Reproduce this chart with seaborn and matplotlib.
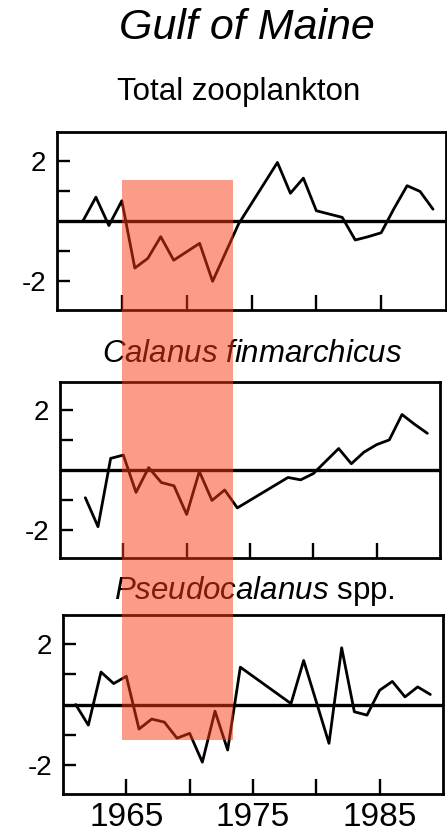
import matplotlib
matplotlib.use("Agg")
import matplotlib.pyplot as plt
import seaborn as sns
import pandas as pd
from matplotlib import transforms
from matplotlib.patches import Rectangle

# ---------------- data ----------------
total_years = [1962, 1963, 1964, 1965, 1966, 1967, 1968, 1969, 1970, 1971, 1972,
               1974, 1977, 1978, 1979, 1980, 1981, 1982, 1983, 1984, 1985,
               1986, 1987, 1988, 1989]
total_vals = [0.0, 0.79, -0.15, 0.67, -1.56, -1.24, -0.52, -1.30, -1.02, -0.74, -2.0,
              -0.1, 1.94, 0.92, 1.42, 0.34, 0.23, 0.12, -0.63, -0.52, -0.39,
              0.42, 1.17, 0.98, 0.39]

calanus_years = [1962, 1963, 1964, 1965, 1966, 1967, 1968, 1969, 1970, 1971, 1972,
                 1973, 1974, 1978, 1979, 1980, 1981, 1982, 1983, 1984, 1985,
                 1986, 1987, 1988, 1989]
calanus_vals = [-0.93, -1.90, 0.39, 0.50, -0.75, 0.08, -0.42, -0.53, -1.49, -0.05, -1.02,
                -0.67, -1.27, -0.25, -0.33, -0.12, 0.30, 0.72, 0.21, 0.60, 0.85,
                1.01, 1.86, 1.53, 1.23]

pseudo_years = [1961, 1962, 1963, 1964, 1965, 1966, 1967, 1968, 1969, 1970, 1971,
                1972, 1973, 1974, 1978, 1979, 1981, 1982, 1983, 1984, 1985,
                1986, 1987, 1988, 1989]
pseudo_vals = [0.0, -0.68, 1.07, 0.69, 0.93, -0.81, -0.48, -0.58, -1.11, -0.95, -1.90,
               -0.22, -1.50, 1.23, 0.03, 1.45, -1.28, 1.87, -0.24, -0.35, 0.47,
               0.76, 0.25, 0.58, 0.33]

xticks = [1965, 1970, 1975, 1980, 1985]
xticklabels = ["1965", "", "1975", "", "1985"]
yticks = [-2, -1, 1, 2]
yticklabels = ["-2", "", "", "2"]

main_title = "Gulf of Maine"
panel_titles = ["Total zooplankton", r"$\mathit{Calanus\ finmarchicus}$",
                r"$\mathit{Pseudocalanus}$ spp."]
shade_span = (1965.0, 1973.6)

# ---------------- style ----------------
sns.set_style("white")
plt.rcParams["font.family"] = ["Liberation Sans", "DejaVu Sans"]
plt.rcParams["mathtext.fontset"] = "custom"
plt.rcParams["mathtext.it"] = "Liberation Sans:italic"
plt.rcParams["mathtext.rm"] = "Liberation Sans"
plt.rcParams["text.color"] = "black"
plt.rcParams["axes.labelcolor"] = "black"
plt.rcParams["xtick.color"] = "black"
plt.rcParams["ytick.color"] = "black"

W, H = 447, 840
fig = plt.figure(figsize=(W / 100, H / 100), dpi=100)

# axes boxes in pixels: left, right, top, bottom
boxes = [(57, 446, 132, 310), (60, 440, 382, 558), (63, 443, 615, 794)]
series = [(total_years, total_vals), (calanus_years, calanus_vals),
          (pseudo_years, pseudo_vals)]

axes = []
for i, ((l, r, t, b), (yrs, vals)) in enumerate(zip(boxes, series)):
    ax = fig.add_axes([l / W, 1 - b / H, (r - l) / W, (b - t) / H])
    df = pd.DataFrame({"year": yrs, "value": vals})
    sns.lineplot(data=df, x="year", y="value", ax=ax, color="black",
                 linewidth=2.0, zorder=3)
    ax.axhline(0, color="black", linewidth=2.4, zorder=2)
    ax.set_xlim(1960, 1990)
    ax.set_ylim(-2.95, 2.95)
    ax.set_xlabel("")
    ax.set_ylabel("")
    for s in ax.spines.values():
        s.set_visible(True)
        s.set_linewidth(2.0)
        s.set_color("black")
    ax.set_yticks(yticks)
    ax.set_yticklabels(yticklabels)
    ax.set_xticks(xticks)
    if i == 2:
        ax.set_xticklabels(xticklabels)
    else:
        ax.set_xticklabels([""] * len(xticks))
    ax.tick_params(axis="y", direction="in", length=9, width=1.7, left=True,
                   right=False, labelsize=20, pad=8, colors="black")
    ax.tick_params(axis="x", direction="in", length=11, width=1.7, bottom=True,
                   top=False, labelsize=24, pad=6, colors="black")
    axes.append(ax)

# titles
fig.text(247 / W, 1 - 39 / H, main_title, ha="center", va="baseline",
         fontsize=31, style="italic", color="black")
title_pos = [(239, 100), (252, 362), (254, 599)]
for (x, y), txt in zip(title_pos, panel_titles):
    fig.text(x / W, 1 - y / H, txt, ha="center", va="baseline", fontsize=22.5,
             color="black")

# shaded period spanning all panels
trans = transforms.blended_transform_factory(axes[0].transData, fig.transFigure)
rect = Rectangle((shade_span[0], 1 - 740 / H), shade_span[1] - shade_span[0],
                 (740 - 180) / H, transform=trans, facecolor="#F83A12",
                 alpha=0.5, edgecolor="none", zorder=5)
fig.add_artist(rect)

fig.savefig("out.png", dpi=100)
